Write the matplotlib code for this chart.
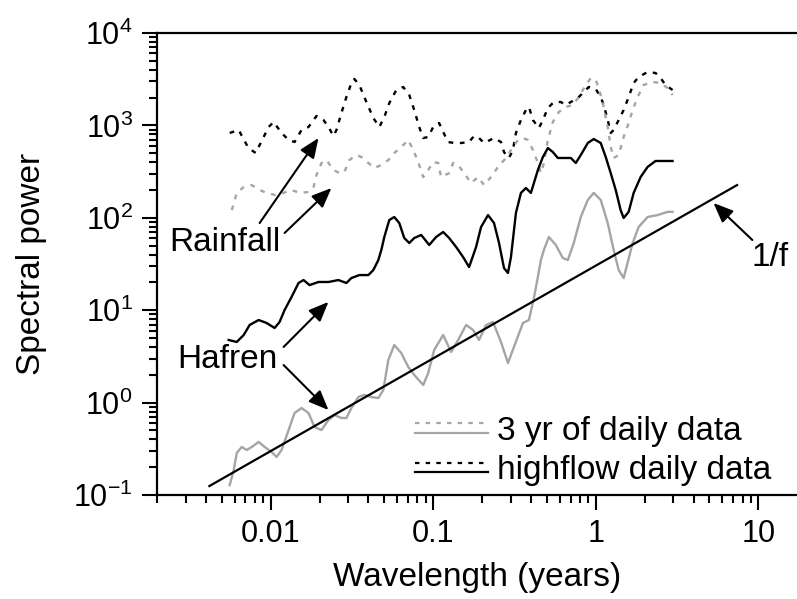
import numpy as np
import matplotlib
matplotlib.use("Agg")
import matplotlib.pyplot as plt
from matplotlib.lines import Line2D
from matplotlib.legend_handler import HandlerBase
from matplotlib.ticker import LogLocator, FixedLocator, FixedFormatter, NullFormatter

plt.rcParams['font.family'] = ['Liberation Sans', 'DejaVu Sans']
plt.rcParams['mathtext.fontset'] = 'custom'
plt.rcParams['mathtext.rm'] = 'Liberation Sans'
plt.rcParams['mathtext.it'] = 'Liberation Sans:italic'

# rainfall, highflow daily data (black dotted)
rain_hi_wl = [0.0056, 0.00636, 0.0073, 0.00809, 0.00906, 0.00972, 0.01043, 0.01168, 0.0129, 0.01404,
              0.01549, 0.0171, 0.01915, 0.02114, 0.02269, 0.02435, 0.02541, 0.02726, 0.02925, 0.0314,
              0.03276, 0.03516, 0.03882, 0.04284, 0.04663, 0.05005, 0.05371, 0.05929, 0.06546, 0.07125,
              0.07646, 0.08205, 0.08683, 0.09318, 0.1, 0.1088, 0.1152, 0.1236, 0.1345, 0.1485,
              0.1663, 0.1784, 0.1915, 0.2056, 0.2367, 0.2613, 0.2726, 0.2925, 0.3095, 0.3229,
              0.3466, 0.372, 0.3882, 0.4107, 0.4469, 0.4729, 0.5076, 0.5525, 0.6098, 0.6546,
              0.7025, 0.7755, 0.8442, 0.906, 1.0, 1.073, 1.12, 1.185, 1.236, 1.289,
              1.384, 1.485, 1.594, 1.711, 1.836, 2.084, 2.334, 2.505, 2.688, 2.968]
rain_hi_pw = [828, 892, 569, 503, 749, 961, 1088, 828, 695, 661,
              892, 961, 1264, 1144, 961, 768, 892, 1362, 2029, 2876,
              3178, 2736, 1791, 1203, 961, 1233, 1747, 2416, 2604, 2133,
              1468, 961, 730, 749, 961, 1062, 848, 661, 645, 645,
              661, 768, 730, 645, 730, 661, 515, 444, 542, 828,
              1144, 1468, 1582, 1144, 937, 1144, 1543, 1791, 1791, 1663,
              1791, 1979, 2299, 2604, 2477, 2029, 1663, 1144, 828, 892,
              1144, 1468, 2029, 2876, 3340, 3784, 3690, 3258, 2736, 2416]

# rainfall, 3 yr of daily data (grey dotted)
rain_3yr_wl = [0.00577, 0.00619, 0.00683, 0.00765, 0.00856, 0.00945, 0.01058, 0.01202, 0.01345, 0.01506,
               0.0171, 0.01836, 0.01915, 0.02056, 0.02206, 0.02435, 0.0265, 0.02844, 0.03052, 0.0337,
               0.03617, 0.03992, 0.04345, 0.04797, 0.05296, 0.05763, 0.06363, 0.07025, 0.07539, 0.0809,
               0.08683, 0.09318, 0.1, 0.1073, 0.1119, 0.1254, 0.1326, 0.1424, 0.1549, 0.171,
               0.1888, 0.2056, 0.2269, 0.2504, 0.2805, 0.3095, 0.3322, 0.3565, 0.3826, 0.4107,
               0.4407, 0.4598, 0.4797, 0.5076, 0.5447, 0.5929, 0.6546, 0.7226, 0.7866, 0.8683,
               0.9318, 1.0, 1.043, 1.104, 1.185, 1.236, 1.289, 1.384, 1.485, 1.594,
               1.687, 1.81, 1.97, 2.237, 2.505, 2.765, 2.968]
rain_3yr_pw = [121, 186, 215, 226, 200, 186, 177, 186, 200, 186,
               190, 215, 290, 392, 422, 329, 305, 313, 422, 478,
               455, 392, 346, 373, 422, 503, 584, 695, 542, 402,
               276, 329, 402, 392, 276, 305, 392, 373, 305, 238,
               276, 226, 276, 355, 444, 584, 695, 730, 695, 542,
               392, 305, 392, 695, 1088, 1396, 1582, 1663, 2029, 2736,
               3258, 3099, 2540, 1747, 961, 584, 444, 478, 749, 1062,
               1468, 2029, 2736, 2949, 2876, 2540, 2133]

# Hafren, highflow daily data (black solid)
hafren_hi_wl = [0.00552, 0.00619, 0.00683, 0.00743, 0.00844, 0.00945, 0.01058, 0.01135, 0.01219, 0.01345,
                0.01485, 0.01594, 0.01735, 0.0197, 0.02269, 0.02613, 0.02925, 0.0314, 0.03516, 0.03992,
                0.04284, 0.04598, 0.04797, 0.05005, 0.05371, 0.05763, 0.06186, 0.06639, 0.07125, 0.07646,
                0.0844, 0.09451, 0.1043, 0.1152, 0.1254, 0.1384, 0.1528, 0.1663, 0.1836, 0.197,
                0.2175, 0.2367, 0.2541, 0.2726, 0.2884, 0.3009, 0.3229, 0.3466, 0.372, 0.3992,
                0.4165, 0.4407, 0.4729, 0.5076, 0.5447, 0.5845, 0.6363, 0.7025, 0.7539, 0.8091,
                0.8933, 0.9721, 1.073, 1.152, 1.236, 1.327, 1.423, 1.485, 1.594, 1.711,
                1.888, 2.084, 2.334, 2.968]
hafren_hi_pw = [4.76, 4.53, 5.39, 6.92, 7.83, 7.27, 6.42, 7.45, 10.05, 13.9,
                19.7, 21.2, 18.7, 20.2, 20.2, 21.2, 19.7, 22.3, 24.0, 24.0,
                27.2, 34.9, 44.8, 62.0, 94.7, 102, 87.8, 60.4, 53.4, 60.4,
                65.2, 50.8, 62.0, 70.2, 60.4, 48.3, 37.6, 29.3, 48.3, 79.5,
                107, 87.8, 53.4, 28.6, 25.3, 37.6, 113, 186, 210, 186,
                238, 329, 455, 569, 515, 444, 444, 444, 392, 478,
                645, 712, 645, 455, 305, 200, 121, 99.5, 116, 186,
                276, 355, 412, 412]

# Hafren, 3 yr of daily data (grey solid)
hafren_3yr_wl = [0.0056, 0.00593, 0.00619, 0.00664, 0.00713, 0.00765, 0.00844, 0.00919, 0.01014, 0.01088,
                 0.01168, 0.0129, 0.01404, 0.01549, 0.0171, 0.01862, 0.02056, 0.02269, 0.02469, 0.02726,
                 0.02925, 0.0314, 0.03466, 0.03774, 0.04165, 0.04598, 0.04935, 0.05296, 0.05763, 0.06363,
                 0.07025, 0.07646, 0.08683, 0.09318, 0.1014, 0.1152, 0.1289, 0.1424, 0.1594, 0.1759,
                 0.1915, 0.2114, 0.2334, 0.2613, 0.2884, 0.314, 0.3565, 0.3882, 0.4165, 0.4407,
                 0.4598, 0.4797, 0.5147, 0.5681, 0.6273, 0.6733, 0.7328, 0.8091, 0.8933, 0.9721,
                 1.073, 1.185, 1.289, 1.384, 1.485, 1.687, 1.836, 2.084, 2.401, 2.765, 2.968]
hafren_3yr_pw = [0.128, 0.186, 0.285, 0.331, 0.307, 0.331, 0.375, 0.331, 0.292, 0.258,
                 0.307, 0.505, 0.772, 0.874, 0.772, 0.544, 0.505, 0.648, 0.734, 0.681,
                 0.681, 0.874, 1.15, 1.21, 1.15, 1.12, 1.37, 2.89, 4.20, 3.44,
                 2.43, 1.99, 1.55, 2.09, 3.71, 5.39, 3.53, 4.76, 6.92, 6.11,
                 4.76, 6.92, 7.45, 4.53, 2.68, 4.00, 7.27, 7.83, 13.6, 22.9,
                 34.9, 44.8, 62.0, 50.8, 36.7, 34.9, 53.4, 102, 156, 186,
                 156, 87.8, 44.8, 27.2, 22.3, 53.4, 79.5, 102, 107, 116, 116]

# 1/f reference line end points
onef_wl = [0.0042, 7.4]
onef_pw = [0.125, 226]

legend_labels = ["3 yr of daily data", "highflow daily data"]

grey = '#a5a5a5'
dot = (0, (2, 2.8))
fs = 24
tfs = 22


class HandlerPair(HandlerBase):
    # two short lines stacked: dotted on top, solid below
    def create_artists(self, legend, orig_handle, xdescent, ydescent,
                       width, height, fontsize, trans):
        yc = height / 2 - ydescent
        arts = []
        for src, dy in zip(orig_handle, (0.2 * height, -0.2 * height)):
            ln = Line2D([-xdescent, width - xdescent], [yc + dy, yc + dy])
            ln.update_from(src)
            ln.set_transform(trans)
            arts.append(ln)
        return arts


fig = plt.figure(figsize=(7.97, 5.99), dpi=100)
ax = fig.add_axes([157 / 797, 1 - 495 / 599, 640 / 797, 462 / 599])

ax.plot(rain_hi_wl, rain_hi_pw, color='black', lw=1.7, linestyle=dot)
ax.plot(rain_3yr_wl, rain_3yr_pw, color=grey, lw=1.7, linestyle=dot)
ax.plot(hafren_hi_wl, hafren_hi_pw, color='black', lw=1.7)
ax.plot(hafren_3yr_wl, hafren_3yr_pw, color=grey, lw=1.7)
ax.plot(onef_wl, onef_pw, color='black', lw=1.6)

ax.set_xscale('log')
ax.set_yscale('log')
ax.set_xlim(0.002, 17.3)
ax.set_ylim(0.1, 1e4)

ax.xaxis.set_major_locator(FixedLocator([0.01, 0.1, 1, 10]))
ax.xaxis.set_major_formatter(FixedFormatter(['0.01', '0.1', '1', '10']))
ax.xaxis.set_minor_locator(LogLocator(base=10, subs=np.arange(2, 10), numticks=20))
ax.xaxis.set_minor_formatter(NullFormatter())
ax.yaxis.set_major_locator(LogLocator(base=10, numticks=10))
ax.yaxis.set_minor_locator(LogLocator(base=10, subs=np.arange(2, 10), numticks=20))
ax.yaxis.set_minor_formatter(NullFormatter())

ax.tick_params(which='major', direction='out', length=11, width=1.5, labelsize=tfs, pad=6.5)
ax.tick_params(which='minor', direction='out', length=5.5, width=1.5)
ax.tick_params(top=False, right=False, which='both')
ax.spines['right'].set_visible(False)
for s in ('left', 'bottom', 'top'):
    ax.spines[s].set_linewidth(1.6)

ax.set_xlabel('Wavelength (years)', fontsize=fs)
ax.set_ylabel('Spectral power', fontsize=fs)
ax.xaxis.set_label_coords(0.5, -0.145)
ax.yaxis.set_label_coords(-0.172, 0.5)

arrow = dict(arrowstyle='-|>,head_length=0.6,head_width=0.25', color='black',
             lw=1.5, mutation_scale=20, shrinkA=0, shrinkB=0)
ax.text(0.00237, 53.4, 'Rainfall', fontsize=fs, ha='left', va='center')
ax.annotate('', xy=(0.0197, 730), xytext=(0.00856, 87.8), arrowprops=arrow)
ax.annotate('', xy=(0.02366, 210), xytext=(0.01219, 68.5), arrowprops=arrow)
ax.text(0.00265, 2.93, 'Hafren', fontsize=fs, ha='left', va='center')
ax.annotate('', xy=(0.02269, 12.3), xytext=(0.01202, 4.0), arrowprops=arrow)
ax.annotate('', xy=(0.02269, 0.831), xytext=(0.01202, 2.55), arrowprops=arrow)
ax.text(11.85, 37.5, '1/f', fontsize=fs, ha='center', va='center')
ax.annotate('', xy=(5.30, 144.6), xytext=(9.19, 57.5), arrowprops=arrow)

h_grey = (Line2D([], [], color=grey, lw=1.6, linestyle=dot), Line2D([], [], color=grey, lw=1.6))
h_black = (Line2D([], [], color='black', lw=1.6, linestyle=dot), Line2D([], [], color='black', lw=1.6))
ax.legend([h_grey, h_black], legend_labels, handler_map={tuple: HandlerPair()},
          loc='upper left', bbox_to_anchor=(0.403, 0.172), frameon=False, fontsize=fs,
          handlelength=2.2, handletextpad=0.27, labelspacing=0.25, borderpad=0, borderaxespad=0)

fig.savefig('out.png', dpi=100)
